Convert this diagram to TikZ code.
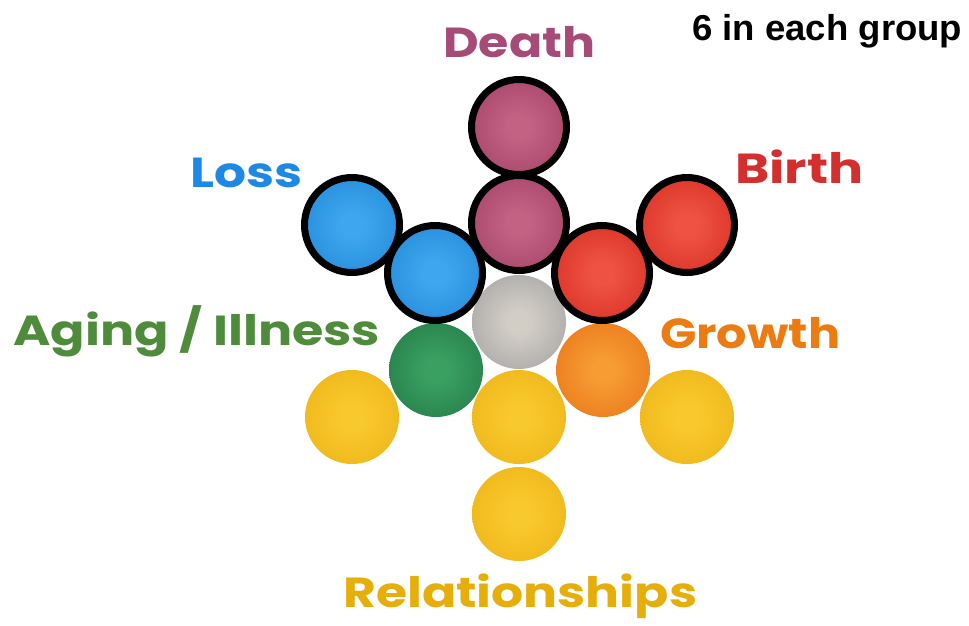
\documentclass[tikz,border=0pt]{standalone}
\usepackage{fontspec}
\usepackage{graphicx}
\newfontfamily\labfont{Poppins}
\newfontfamily\notefont{Liberation Sans}
\definecolor{cDeath}{HTML}{A64B78}
\definecolor{cLoss}{HTML}{1E88E5}
\definecolor{cBirth}{HTML}{D32F2F}
\definecolor{cAging}{HTML}{4E8B3A}
\definecolor{cGrowth}{HTML}{EC7C12}
\definecolor{cRel}{HTML}{E6AE0A}
% sphere colours (centre / rim)
\definecolor{dIn}{HTML}{C46284}\definecolor{dOut}{HTML}{8C2E54}
\definecolor{lIn}{HTML}{3EA6EE}\definecolor{lOut}{HTML}{1276CC}
\definecolor{bIn}{HTML}{EE5242}\definecolor{bOut}{HTML}{C8180E}
\definecolor{gIn}{HTML}{D2CEC6}\definecolor{gOut}{HTML}{8A8A90}
\definecolor{aIn}{HTML}{3AA062}\definecolor{aOut}{HTML}{176637}
\definecolor{oIn}{HTML}{F69C32}\definecolor{oOut}{HTML}{E3600C}
\definecolor{yIn}{HTML}{F8C92E}\definecolor{yOut}{HTML}{E8A80A}
\newcommand\mksph[3]{\pgfdeclareradialshading{#1}{\pgfpoint{0bp}{0bp}}{color(0bp)=(#2); color(6bp)=(#2); color(50bp)=(#3); color(72bp)=(#3)}}
\mksph{shDeath}{dIn}{dOut}
\mksph{shLoss}{lIn}{lOut}
\mksph{shBirth}{bIn}{bOut}
\mksph{shGray}{gIn}{gOut}
\mksph{shAging}{aIn}{aOut}
\mksph{shGrowth}{oIn}{oOut}
\mksph{shRel}{yIn}{yOut}
\newcommand\fitto[2]{\resizebox{#1pt}{\height}{#2}}
\tikzset{
  ball/.style={circle, inner sep=0pt, minimum size=94pt, shade, shading=#1},
  rball/.style={circle, inner sep=0pt, minimum size=95pt, shade, shading=#1, draw=black, line width=7pt},
  lab/.style={inner sep=0pt, anchor=base west, font=\labfont\bfseries\fontsize{42}{48}\selectfont},
}
\begin{document}
\begin{tikzpicture}[x=1pt,y=-1pt]
\useasboundingbox[fill=white] (0,0) rectangle (969,625);
% unbordered spheres
\node[ball=shRel] (y1) at (352,417) {};
\node[ball=shRel] (y2) at (519,417) {};
\node[ball=shRel] (y3) at (687,417) {};
\node[ball=shRel] (y4) at (519,514) {};
\node[ball=shAging] (ag) at (436,370) {};
\node[ball=shGrowth] (gr) at (603,370) {};
\node[ball=shGray] (gy) at (519,322) {};
% bordered spheres
\node[rball=shLoss] (l1) at (352,225) {};
\node[rball=shBirth] (b1) at (687,225) {};
\node[rball=shDeath] (d1) at (519,127) {};
\node[rball=shLoss] (l2) at (435,273) {};
\node[rball=shBirth] (b2) at (602,273) {};
\node[rball=shDeath] (d2) at (519,223) {};
% labels
\node[lab, text=cDeath] (tDeath) at (443,57) {\fitto{152}{Death}};
\node[lab, text=cLoss] (tLoss) at (190,187) {\fitto{112}{Loss}};
\node[lab, text=cBirth] (tBirth) at (735,183) {\fitto{128}{Birth}};
\node[lab, text=cAging] (tAging) at (13,345) {\fitto{367}{Aging / Illness}};
\node[lab, text=cGrowth] (tGrowth) at (660,348) {\fitto{180}{Growth}};
\node[lab, text=cRel] (tRel) at (343,607) {\fitto{354}{Relationships}};
\node[inner sep=0pt, anchor=base west, font=\notefont\bfseries\fontsize{36}{40}\selectfont] (note) at (692,40) {\fitto{270}{6 in each group}};
\end{tikzpicture}
\end{document}
